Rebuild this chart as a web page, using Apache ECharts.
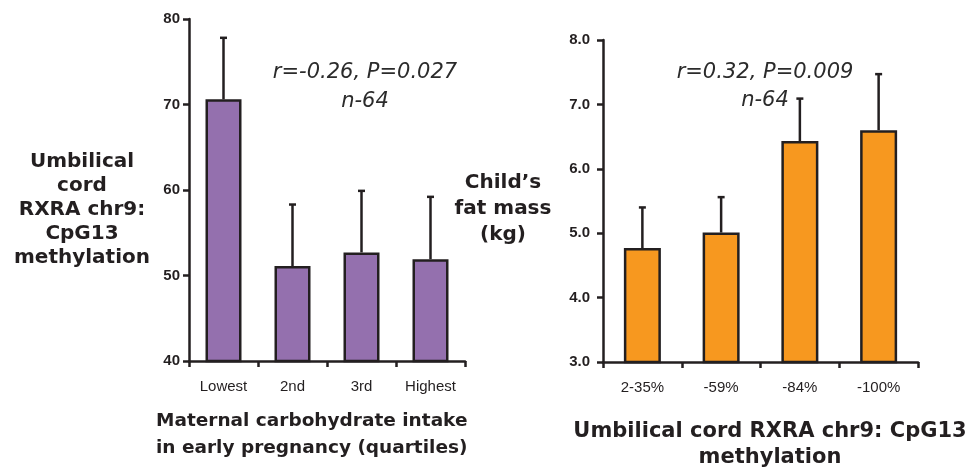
<!DOCTYPE html>
<html><head><meta charset="utf-8">
<script src="https://cdn.jsdelivr.net/npm/echarts@6/dist/echarts.min.js"></script>
<style>html,body{margin:0;padding:0;background:#fff}#c{width:977px;height:471px}</style>
</head><body><div id="c"></div>
<script>
// ---- data ----
const leftCategories = ['Lowest', '2nd', '3rd', 'Highest'];
const leftValues = [70.6, 51.1, 52.7, 51.9];
const leftUpper = [77.8, 58.3, 59.9, 59.2];
const leftTickMin = 40, leftTickMax = 80, leftTickStep = 10;

const rightCategories = ['2-35%', '-59%', '-84%', '-100%'];
const rightValues = [4.77, 5.01, 6.43, 6.60];
const rightUpper = [5.40, 5.56, 7.09, 7.47];
const rightTickMin = 3, rightTickMax = 8, rightTickStep = 1;

// ---- styles ----
const INK = '#231f20';
const PURPLE = '#9470ae';
const ORANGE = '#f7981f';
const boldFont = '"DejaVu Sans", sans-serif';

function errData(vals, ups) { return vals.map((v, i) => [i, v, ups[i]]); }
function errRender(params, api) {
  const i = api.value(0);
  const lo = api.coord([i, api.value(1)]);
  const hi = api.coord([i, api.value(2)]);
  const cap = 3.5;
  return {
    type: 'group',
    children: [
      { type: 'line', shape: { x1: lo[0], y1: lo[1], x2: hi[0], y2: hi[1] }, style: { stroke: INK, lineWidth: 2.5 } },
      { type: 'line', shape: { x1: hi[0] - cap, y1: hi[1], x2: hi[0] + cap, y2: hi[1] }, style: { stroke: INK, lineWidth: 2.5 } }
    ]
  };
}

const axisLine = { show: true, lineStyle: { color: INK, width: 2.5 } };
const axisTick = { show: true, length: 6, lineStyle: { color: INK, width: 2.5 } };
const xLabel = { color: INK, fontSize: 15, fontFamily: '"Liberation Sans", Arial, sans-serif', margin: 18 };
const yLabelBase = { color: INK, fontSize: 15, fontWeight: 'bold', fontFamily: '"Liberation Sans", Arial, sans-serif' };

const chart = echarts.init(document.getElementById('c'), null, { renderer: 'canvas' });
chart.setOption({
  animation: false,
  backgroundColor: '#fff',
  grid: [
    { left: 189, right: 512, top: 19, bottom: 110 },
    { left: 603, right: 59, top: 40, bottom: 109 }
  ],
  xAxis: [
    { type: 'category', gridIndex: 0, data: leftCategories, axisLine, axisTick, axisLabel: xLabel, splitLine: { show: false } },
    { type: 'category', gridIndex: 1, data: rightCategories, axisLine, axisTick, axisLabel: xLabel, splitLine: { show: false } }
  ],
  yAxis: [
    { type: 'value', gridIndex: 0, min: leftTickMin, max: leftTickMax, interval: leftTickStep, axisLine, axisTick,
      axisLabel: Object.assign({ margin: 9 }, yLabelBase), splitLine: { show: false } },
    { type: 'value', gridIndex: 1, min: rightTickMin, max: rightTickMax, interval: rightTickStep, axisLine, axisTick,
      axisLabel: Object.assign({ margin: 13, formatter: v => v.toFixed(1) }, yLabelBase), splitLine: { show: false } }
  ],
  series: [
    { type: 'bar', xAxisIndex: 0, yAxisIndex: 0, data: leftValues, barWidth: 36,
      itemStyle: { color: PURPLE, borderColor: INK, borderWidth: 2.5 }, z: 3 },
    { type: 'custom', xAxisIndex: 0, yAxisIndex: 0, data: errData(leftValues, leftUpper), renderItem: errRender, z: 2 },
    { type: 'bar', xAxisIndex: 1, yAxisIndex: 1, data: rightValues, barWidth: 37,
      itemStyle: { color: ORANGE, borderColor: INK, borderWidth: 2.5 }, z: 3 },
    { type: 'custom', xAxisIndex: 1, yAxisIndex: 1, data: errData(rightValues, rightUpper), renderItem: errRender, z: 2 }
  ],
  graphic: [
    { type: 'text', x: 365, y: 73, style: { text: 'r=-0.26, P=0.027', textAlign: 'center', textVerticalAlign: 'middle', font: 'italic 21px "DejaVu Sans", sans-serif', fill: '#2b2b2b' } },
    { type: 'text', x: 365, y: 102, style: { text: 'n-64', textAlign: 'center', textVerticalAlign: 'middle', font: 'italic 21px "DejaVu Sans", sans-serif', fill: '#2b2b2b' } },
    { type: 'text', x: 765, y: 73, style: { text: 'r=0.32, P=0.009', textAlign: 'center', textVerticalAlign: 'middle', font: 'italic 21px "DejaVu Sans", sans-serif', fill: '#2b2b2b' } },
    { type: 'text', x: 765, y: 101, style: { text: 'n-64', textAlign: 'center', textVerticalAlign: 'middle', font: 'italic 21px "DejaVu Sans", sans-serif', fill: '#2b2b2b' } },
    { type: 'text', x: 82, y: 210, style: { text: 'Umbilical\ncord\nRXRA chr9:\nCpG13\nmethylation', textAlign: 'center', textVerticalAlign: 'middle', lineHeight: 24, font: 'bold 20px ' + boldFont, fill: INK } },
    { type: 'text', x: 503, y: 209, style: { text: 'Child\u2019s\nfat mass\n(kg)', textAlign: 'center', textVerticalAlign: 'middle', lineHeight: 26, font: 'bold 20px ' + boldFont, fill: INK } },
    { type: 'text', x: 156, y: 435, style: { text: 'Maternal carbohydrate intake\nin early pregnancy (quartiles)', textAlign: 'left', textVerticalAlign: 'middle', lineHeight: 27, font: 'bold 18.5px ' + boldFont, fill: INK } },
    { type: 'text', x: 770, y: 445, style: { text: 'Umbilical cord RXRA chr9: CpG13\nmethylation', textAlign: 'center', textVerticalAlign: 'middle', lineHeight: 26, font: 'bold 21px ' + boldFont, fill: INK } }
  ]
});
</script>
</body></html>
